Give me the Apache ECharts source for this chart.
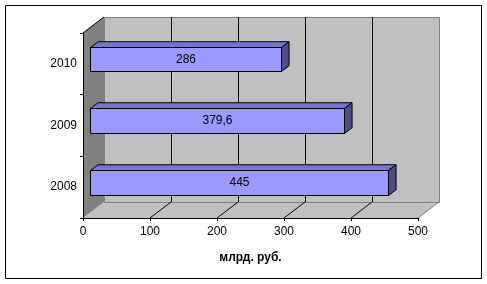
<!DOCTYPE html>
<html>
<head>
<meta charset="utf-8">
<script src="https://cdn.jsdelivr.net/npm/echarts@6/dist/echarts.min.js"></script>
<style>html,body{margin:0;padding:0;background:#fff;}#c{width:487px;height:284px;}</style>
</head>
<body>
<div id="c"></div>
<script>
const categories = ['2008', '2009', '2010'];
const values = [445, 379.6, 286];
const valueLabels = ['445', '379,6', '286'];
const xTicks = [0, 100, 200, 300, 400, 500];
const axisTitle = 'млрд. руб.';

const FONT = "'Liberation Sans', Arial, sans-serif";
const DX = 21, DY = -16;       // depth offset of the back wall
const F1 = 0.31, F2 = 0.67;    // bar front/back depth fraction
const BAR = 0.4;               // bar thickness as fraction of band

const chart = echarts.init(document.getElementById('c'), null, {renderer: 'canvas'});
const r = v => Math.round(v) + 0.5;

function wallsRender(params, api) {
  const x0 = api.coord([xTicks[0], 0])[0];
  const x1 = api.coord([xTicks[xTicks.length - 1], 0])[0];
  const cs = params.coordSys;
  const top = cs.y, bot = cs.y + cs.height;
  const ch = [];
  // floor
  ch.push({type: 'polygon', shape: {points: [[x0, bot], [x0 + DX, bot + DY], [x1 + DX, bot + DY], [x1, bot]]},
    style: {fill: '#c0c0c0', stroke: null}});
  // back wall
  ch.push({type: 'rect', shape: {x: r(x0 + DX), y: r(top + DY), width: Math.round(x1 - x0), height: Math.round(bot - top)},
    style: {fill: '#c0c0c0', stroke: '#808080', lineWidth: 1}});
  // left side wall
  ch.push({type: 'polygon', shape: {points: [[x0, top], [x0 + DX, top + DY], [x0 + DX, bot + DY], [x0, bot]]},
    style: {fill: '#808080', stroke: null}});
  ch.push({type: 'line', shape: {x1: x0, y1: top, x2: x0 + DX, y2: top + DY}, style: {stroke: '#000', lineWidth: 1}});
  // floor right edge
  ch.push({type: 'line', shape: {x1: x1, y1: bot, x2: x1 + DX, y2: bot + DY}, style: {stroke: '#808080', lineWidth: 1}});
  // gridlines on back wall + floor diagonals
  for (let i = 1; i < xTicks.length - 1; i++) {
    const x = api.coord([xTicks[i], 0])[0];
    ch.push({type: 'line', shape: {x1: r(x + DX - 0.5), y1: top + DY, x2: r(x + DX - 0.5), y2: bot + DY}, style: {stroke: '#000', lineWidth: 1}});
    ch.push({type: 'line', shape: {x1: x, y1: bot, x2: x + DX, y2: bot + DY}, style: {stroke: '#000', lineWidth: 1}});
  }
  return {type: 'group', children: ch};
}

function barRender(params, api) {
  const ci = api.value(0), v = api.value(1);
  const c0 = api.coord([0, ci]);
  const c1 = api.coord([v, ci]);
  const band = api.size([0, 1])[1];
  const h = band * BAR;
  const fx = F1 * DX, fy = F1 * DY;
  const dx = (F2 - F1) * DX, dy = (F2 - F1) * DY;
  const xa = Math.round(c0[0] + fx) + 0.5, xb = Math.round(c1[0] + fx) + 0.5;
  const yt = Math.round(c0[1] + fy - h / 2) + 0.5, yb = Math.round(c0[1] + fy + h / 2) + 0.5;
  const st = {stroke: '#000', lineWidth: 1, lineJoin: 'miter'};
  return {type: 'group', children: [
    {type: 'polygon', shape: {points: [[xa, yt], [xa + dx, yt + dy], [xb + dx, yt + dy], [xb, yt]]},
      style: Object.assign({fill: '#7575d1'}, st)},
    {type: 'polygon', shape: {points: [[xb, yt], [xb + dx, yt + dy], [xb + dx, yb + dy], [xb, yb]]},
      style: Object.assign({fill: '#4d4d80'}, st)},
    {type: 'rect', shape: {x: xa, y: yt, width: xb - xa, height: yb - yt},
      style: Object.assign({fill: '#9999ff'}, st)},
    {type: 'text', style: {text: valueLabels[params.dataIndex], x: (xa + xb) / 2, y: (yt + yb) / 2,
      align: 'center', verticalAlign: 'middle', fill: '#000', font: '12px ' + FONT}}
  ]};
}

chart.setOption({
  backgroundColor: '#fff',
  animation: false,
  textStyle: {fontFamily: FONT},
  graphic: [{type: 'rect', shape: {x: 5.5, y: 5.5, width: 476, height: 273},
    style: {fill: null, stroke: '#000', lineWidth: 1}, z: 100}],
  grid: {left: 83, top: 33, width: 335, height: 185, containLabel: false},
  xAxis: {
    type: 'value', min: 0, max: 500, interval: 100, z: 10,
    axisLine: {show: true, lineStyle: {color: '#000', width: 1}},
    axisTick: {show: true, length: 3, lineStyle: {color: '#000'}},
    axisLabel: {color: '#000', fontSize: 12, fontFamily: FONT, margin: 8},
    splitLine: {show: false},
    name: axisTitle, nameLocation: 'middle', nameGap: 34,
    nameTextStyle: {color: '#000', fontSize: 12, fontWeight: 'bold', fontFamily: FONT}
  },
  yAxis: {
    type: 'category', data: categories, z: 10,
    axisLine: {show: true, lineStyle: {color: '#000', width: 1}},
    axisTick: {show: true, length: 3, lineStyle: {color: '#000'}},
    axisLabel: {color: '#000', fontSize: 12, fontFamily: FONT, margin: 6},
    splitLine: {show: false}
  },
  series: [
    {type: 'custom', coordinateSystem: 'cartesian2d', renderItem: wallsRender, data: [[0, 0]], clip: false, z: 1, silent: true},
    {type: 'custom', coordinateSystem: 'cartesian2d', renderItem: barRender,
      data: categories.map((c, i) => [i, values[i]]), encode: {x: 1, y: 0}, clip: false, z: 3}
  ]
});
</script>
</body>
</html>
